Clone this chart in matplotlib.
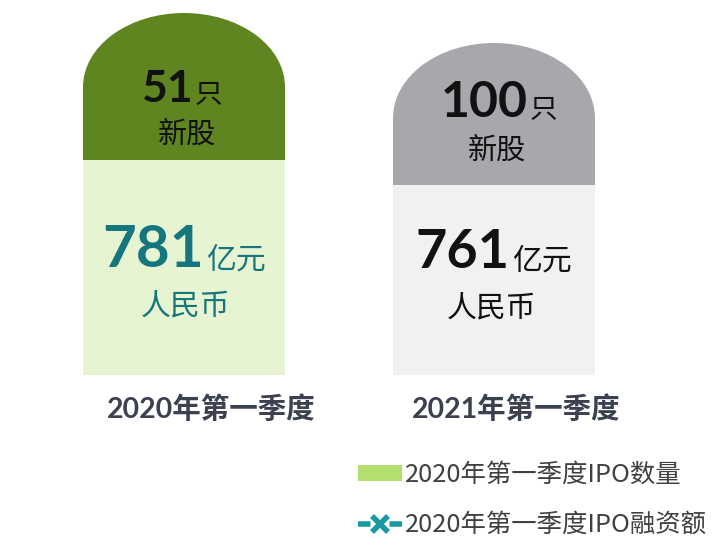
import matplotlib
matplotlib.use("Agg")
import matplotlib.pyplot as plt
from matplotlib.patches import Ellipse, Patch
from matplotlib.lines import Line2D

plt.rcParams['font.family'] = ['Noto Sans CJK SC', 'DejaVu Sans']
plt.rcParams['lines.scale_dashes'] = False

# ---- data ----
periods = ['2020年第一季度', '2021年第一季度']
ipo_counts = [51, 100]
ipo_amounts = [781, 761]
count_unit = '只'
count_label = '新股'
amount_unit = '亿元'
amount_label = '人民币'
legend_labels = ['2020年第一季度IPO数量', '2020年第一季度IPO融资额']

# ---- layout / style ----
centers = [184, 494]
bar_w = 202
cap_center = [87, 118]
cap_half_h = [74, 75]
split_y = [160, 185]
base_y = 375
dark_colors = ['#5e851f', '#a7a8ab']
light_colors = ['#e6f4d2', '#f1f1f1']
amount_colors = ['#16767e', '#111111']
count_sizes = [32, 36]
amount_sizes = [42, 39]
num_font = ['Lato', 'Noto Sans CJK SC']

fig = plt.figure(figsize=(7.2, 5.39), dpi=100)
ax = fig.add_axes([0, 0, 1, 1])
ax.set_xlim(0, 720)
ax.set_ylim(539, 0)
ax.axis('off')

for i in range(2):
    cx = centers[i]
    ax.add_patch(Ellipse((cx, cap_center[i]), bar_w, 2 * cap_half_h[i],
                         facecolor=dark_colors[i], edgecolor='none', zorder=1))
    ax.bar(cx, split_y[i] - cap_center[i], bottom=cap_center[i], width=bar_w,
           color=dark_colors[i], zorder=1)
    ax.bar(cx, base_y - split_y[i], bottom=split_y[i], width=bar_w,
           color=light_colors[i], zorder=2)

# count texts
cnt_pos = [(193, 102), (528, 117)]
cnt_lbl_y = [135, 151]
for i in range(2):
    x, y = cnt_pos[i]
    ax.text(x, y, str(ipo_counts[i]), ha='right', va='baseline',
            fontsize=count_sizes[i], fontweight='bold', family=num_font,
            color='#111111', zorder=3)
    ax.text(x + 2, y, count_unit, ha='left', va='baseline', fontsize=20,
            color='#111111', zorder=3)
    ax.text(centers[i] + 3, cnt_lbl_y[i], count_label, ha='center', va='center',
            fontsize=21, color='#111111', zorder=3)

# amount texts
amt_pos = [(204, 267), (510, 268)]
amt_lbl_y = [306, 308]
amt_lbl_x = [186, 492]
for i in range(2):
    x, y = amt_pos[i]
    ax.text(x, y, str(ipo_amounts[i]), ha='right', va='baseline',
            fontsize=amount_sizes[i], fontweight='bold', family=num_font,
            color=amount_colors[i], zorder=3)
    ax.text(x + 2, y + 2, amount_unit, ha='left', va='baseline', fontsize=21.5,
            color=amount_colors[i], zorder=3)
    ax.text(amt_lbl_x[i], amt_lbl_y[i], amount_label, ha='center', va='center',
            fontsize=21.5, color=amount_colors[i], zorder=3)

# category labels
cat_x = [211, 516]
for i in range(2):
    ax.text(cat_x[i], 409, periods[i], ha='center', va='center', fontsize=20.5,
            fontweight='bold', color='#3b4150', family=['Lato', 'Noto Sans CJK SC'])

# legend
handles = [Patch(facecolor='#b3df6e', edgecolor='none'),
           Line2D([0], [0], color='#1a9aa0', lw=4, marker='x', markersize=11,
                  markeredgewidth=4, dashes=(9, 13.7))]
leg = ax.legend(handles, legend_labels, loc='center left',
                bbox_to_anchor=(358, 500), bbox_transform=ax.transData,
                frameon=False, fontsize=18.3, borderpad=0, borderaxespad=0,
                handlelength=1.73, handleheight=0.6, handletextpad=0.12,
                labelspacing=0.95, labelcolor='#404040')

fig.savefig('out.png', dpi=100)
